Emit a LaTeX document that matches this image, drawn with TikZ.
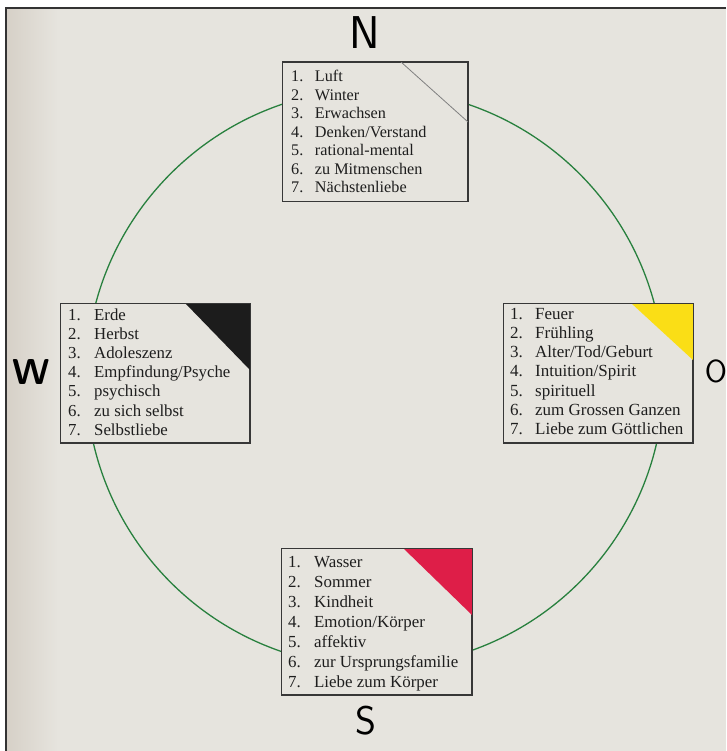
\documentclass[tikz,border=0pt]{standalone}
\usepackage{fontspec}
\setmainfont{Liberation Serif}
\begin{document}
\begin{tikzpicture}[x=1pt,y=-1pt,
  box/.style={draw=boxline, line width=1pt, fill=paperc, inner sep=0pt, anchor=north west},
  lst/.style={anchor=base west, inner sep=0pt, text=textc},
  letter/.style={inner sep=0pt, text=black, font=\sffamily}]
\definecolor{paperc}{RGB}{230,228,222}
\definecolor{leftc}{RGB}{214,208,199}
\definecolor{boxline}{RGB}{55,55,55}
\definecolor{textc}{RGB}{30,30,30}
\definecolor{circc}{RGB}{40,128,62}
\definecolor{yel}{RGB}{250,222,22}
\definecolor{redc}{RGB}{222,30,72}
\definecolor{blk}{RGB}{28,28,28}
\useasboundingbox (0,0) rectangle (726,751);
\fill[white] (0,0) rectangle (726,751);
\fill[paperc] (6,8) rectangle (726,751);
\shade[left color=leftc, right color=paperc] (6,8) rectangle (58,751);
\draw[line width=1.6pt, black!80] (6,751) -- (6,8) -- (726,8);
% circle
\draw[circc, line width=1.3pt] (375,378) circle[radius=289];
% boxes
\node[box, minimum width=185pt, minimum height=139pt] (nbox) at (282,62) {};
\node[box, minimum width=189pt, minimum height=139pt] (wbox) at (60,303) {};
\node[box, minimum width=189pt, minimum height=139pt] (obox) at (503,303) {};
\node[box, minimum width=190pt, minimum height=146pt] (sbox) at (281,548) {};
% corner marks
\draw[gray, line width=0.8pt] ([xshift=-67pt]nbox.north east) -- ([yshift=-60pt]nbox.north east);
\fill[blk] ([xshift=-65pt]wbox.north east) -- (wbox.north east) -- ([yshift=-67pt]wbox.north east) -- cycle;
\fill[yel] ([xshift=-62pt]obox.north east) -- (obox.north east) -- ([yshift=-57pt]obox.north east) -- cycle;
\fill[redc] ([xshift=-69pt]sbox.north east) -- (sbox.north east) -- ([yshift=-67pt]sbox.north east) -- cycle;
\draw[boxline, line width=1pt] (nbox.north west) rectangle (nbox.south east);
\draw[boxline, line width=1pt] (wbox.north west) rectangle (wbox.south east);
\draw[boxline, line width=1pt] (obox.north west) rectangle (obox.south east);
\draw[boxline, line width=1pt] (sbox.north west) rectangle (sbox.south east);
% texts
\node[lst] (ntext) at (291,82) {\fontsize{16.2}{18.5}\selectfont
  \begin{tabular}[t]{@{}l@{\hspace{11.6pt}}l@{}}
  1. & Luft\\ 2. & Winter\\ 3. & Erwachsen\\ 4. & Denken/Verstand\\
  5. & rational-mental\\ 6. & zu Mitmenschen\\ 7. & Nächstenliebe
  \end{tabular}};
\node[lst] (wtext) at (68,320) {\fontsize{16.8}{19.2}\selectfont
  \begin{tabular}[t]{@{}l@{\hspace{13.4pt}}l@{}}
  1. & Erde\\ 2. & Herbst\\ 3. & Adoleszenz\\ 4. & Empfindung/Psyche\\
  5. & psychisch\\ 6. & zu sich selbst\\ 7. & Selbstliebe
  \end{tabular}};
\node[lst] (otext) at (510,319) {\fontsize{17}{19.3}\selectfont
  \begin{tabular}[t]{@{}l@{\hspace{12.2pt}}l@{}}
  1. & Feuer\\ 2. & Frühling\\ 3. & Alter/Tod/Geburt\\ 4. & Intuition/Spirit\\
  5. & spirituell\\ 6. & zum Grossen Ganzen\\ 7. & Liebe zum Göttlichen
  \end{tabular}};
\node[lst] (stext) at (288,567) {\fontsize{16.9}{20}\selectfont
  \begin{tabular}[t]{@{}l@{\hspace{13.3pt}}l@{}}
  1. & Wasser\\ 2. & Sommer\\ 3. & Kindheit\\ 4. & Emotion/Körper\\
  5. & affektiv\\ 6. & zur Ursprungsfamilie\\ 7. & Liebe zum Körper
  \end{tabular}};
% compass letters
\node[letter, font=\sffamily\fontsize{46}{46}\selectfont] (nl) at (365,33) {N};
\node[letter, font=\sffamily\bfseries\fontsize{36}{36}\selectfont] (wl) at (31,372) {W};
\node[letter, font=\sffamily\fontsize{32}{32}\selectfont] (ol) at (716,371) {O};
\node[letter, font=\sffamily\fontsize{40}{40}\selectfont] (sl) at (366,721) {S};
\end{tikzpicture}
\end{document}
